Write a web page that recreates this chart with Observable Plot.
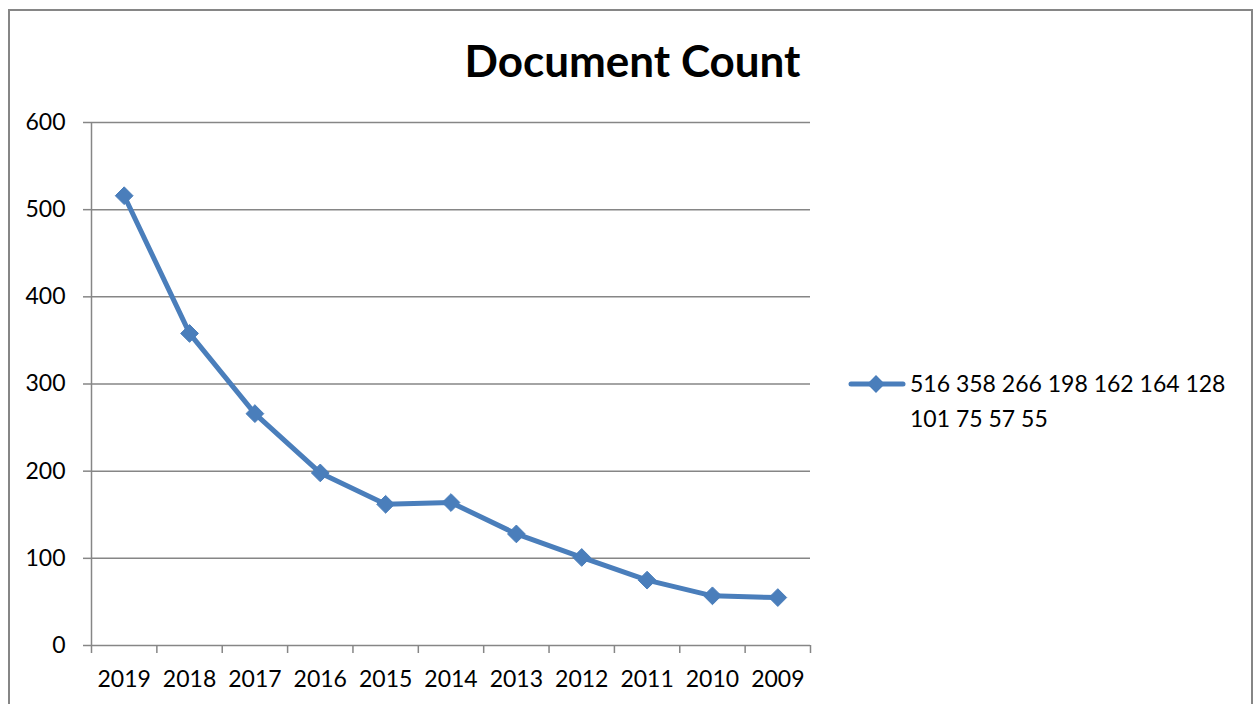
<!DOCTYPE html>
<html>
<head>
<meta charset="utf-8">
<script src="https://cdn.jsdelivr.net/npm/d3@7"></script>
<script src="https://cdn.jsdelivr.net/npm/@observablehq/plot@0.6"></script>
<style>
  html, body { margin: 0; padding: 0; background: #fff; }
  #wrap { position: relative; width: 1257px; height: 704px; overflow: hidden; font-family: Lato, "Open Sans", sans-serif; }
  #frame { position: absolute; left: 8px; top: 9px; width: 1245px; height: 720px; border: 2px solid #868686; box-sizing: border-box; }
  #title { position: absolute; left: 0; width: 1265px; top: 34px; text-align: center; font-size: 44px; font-weight: bold; color: #000; }
  #chart { position: absolute; left: 0; top: 0; }
  #legend { position: absolute; left: 848px; top: 366px; font-size: 23px; color: #000; line-height: 35px; }
  #legend svg { position: absolute; left: 0; top: 6px; }
  #legend .txt { margin-left: 62px; white-space: nowrap; }
</style>
</head>
<body>
<div id="wrap">
  <div id="frame"></div>
  <div id="chart"></div>
  <div id="title"></div>
  <div id="legend"></div>
</div>
<script>
const title = "Document Count";
const years = ["2019","2018","2017","2016","2015","2014","2013","2012","2011","2010","2009"];
const counts = [516, 358, 266, 198, 162, 164, 128, 101, 75, 57, 55];
const yTicks = [0, 100, 200, 300, 400, 500, 600];
const seriesName = counts.join(" ");
const color = "#4A7EBB";
const gridColor = "#868686";

const data = years.map((y, i) => ({year: y, idx: i + 0.5, count: counts[i]}));
const boundaries = d3.range(years.length + 1);

const chart = Plot.plot({
  width: 1257,
  height: 704,
  marginLeft: 91,
  marginRight: 447,
  marginTop: 122,
  marginBottom: 59,
  style: {fontFamily: "Lato, 'Open Sans', sans-serif", fontSize: "23px", color: "#000", background: "transparent"},
  x: {type: "linear", domain: [0, years.length], axis: null},
  y: {type: "linear", domain: [0, 600], axis: null},
  marks: [
    Plot.gridY(yTicks, {stroke: gridColor, strokeOpacity: 1, strokeWidth: 1.5}),
    Plot.axisY(yTicks, {tickSize: 8, tickPadding: 18, stroke: gridColor, strokeWidth: 1.5, fontSize: 23, fill: "#000", label: null}),
    Plot.ruleX([0], {stroke: gridColor, strokeWidth: 1.5}),
    Plot.axisX(boundaries, {tickSize: 8, tickFormat: () => "", stroke: gridColor, strokeWidth: 1.5, label: null}),
    Plot.text(data, {x: "idx", y: () => 0, text: "year", dy: 34, fontSize: 23, fill: "#000"}),
    Plot.line(data, {x: "idx", y: "count", stroke: color, strokeWidth: 5, strokeLinejoin: "round", strokeLinecap: "round"}),
    Plot.dot(data, {x: "idx", y: "count", symbol: "diamond2", r: 8, fill: color, stroke: color, strokeWidth: 1})
  ]
});
document.getElementById("chart").appendChild(chart);
document.getElementById("title").textContent = title;

// legend
const words = seriesName.split(" ");
const lg = document.getElementById("legend");
const sw = d3.create("svg").attr("width", 60).attr("height", 24);
sw.append("line").attr("x1", 3).attr("x2", 55).attr("y1", 12).attr("y2", 12)
  .attr("stroke", color).attr("stroke-width", 5).attr("stroke-linecap", "round");
sw.append("path").attr("d", d3.symbol(d3.symbolDiamond2, Math.PI * 64)()).attr("transform", "translate(28,12)").attr("fill", color);
lg.appendChild(sw.node());
const t = document.createElement("div");
t.className = "txt";
t.innerHTML = words.slice(0, 7).join(" ") + "<br>" + words.slice(7).join(" ");
lg.appendChild(t);
</script>
</body>
</html>
